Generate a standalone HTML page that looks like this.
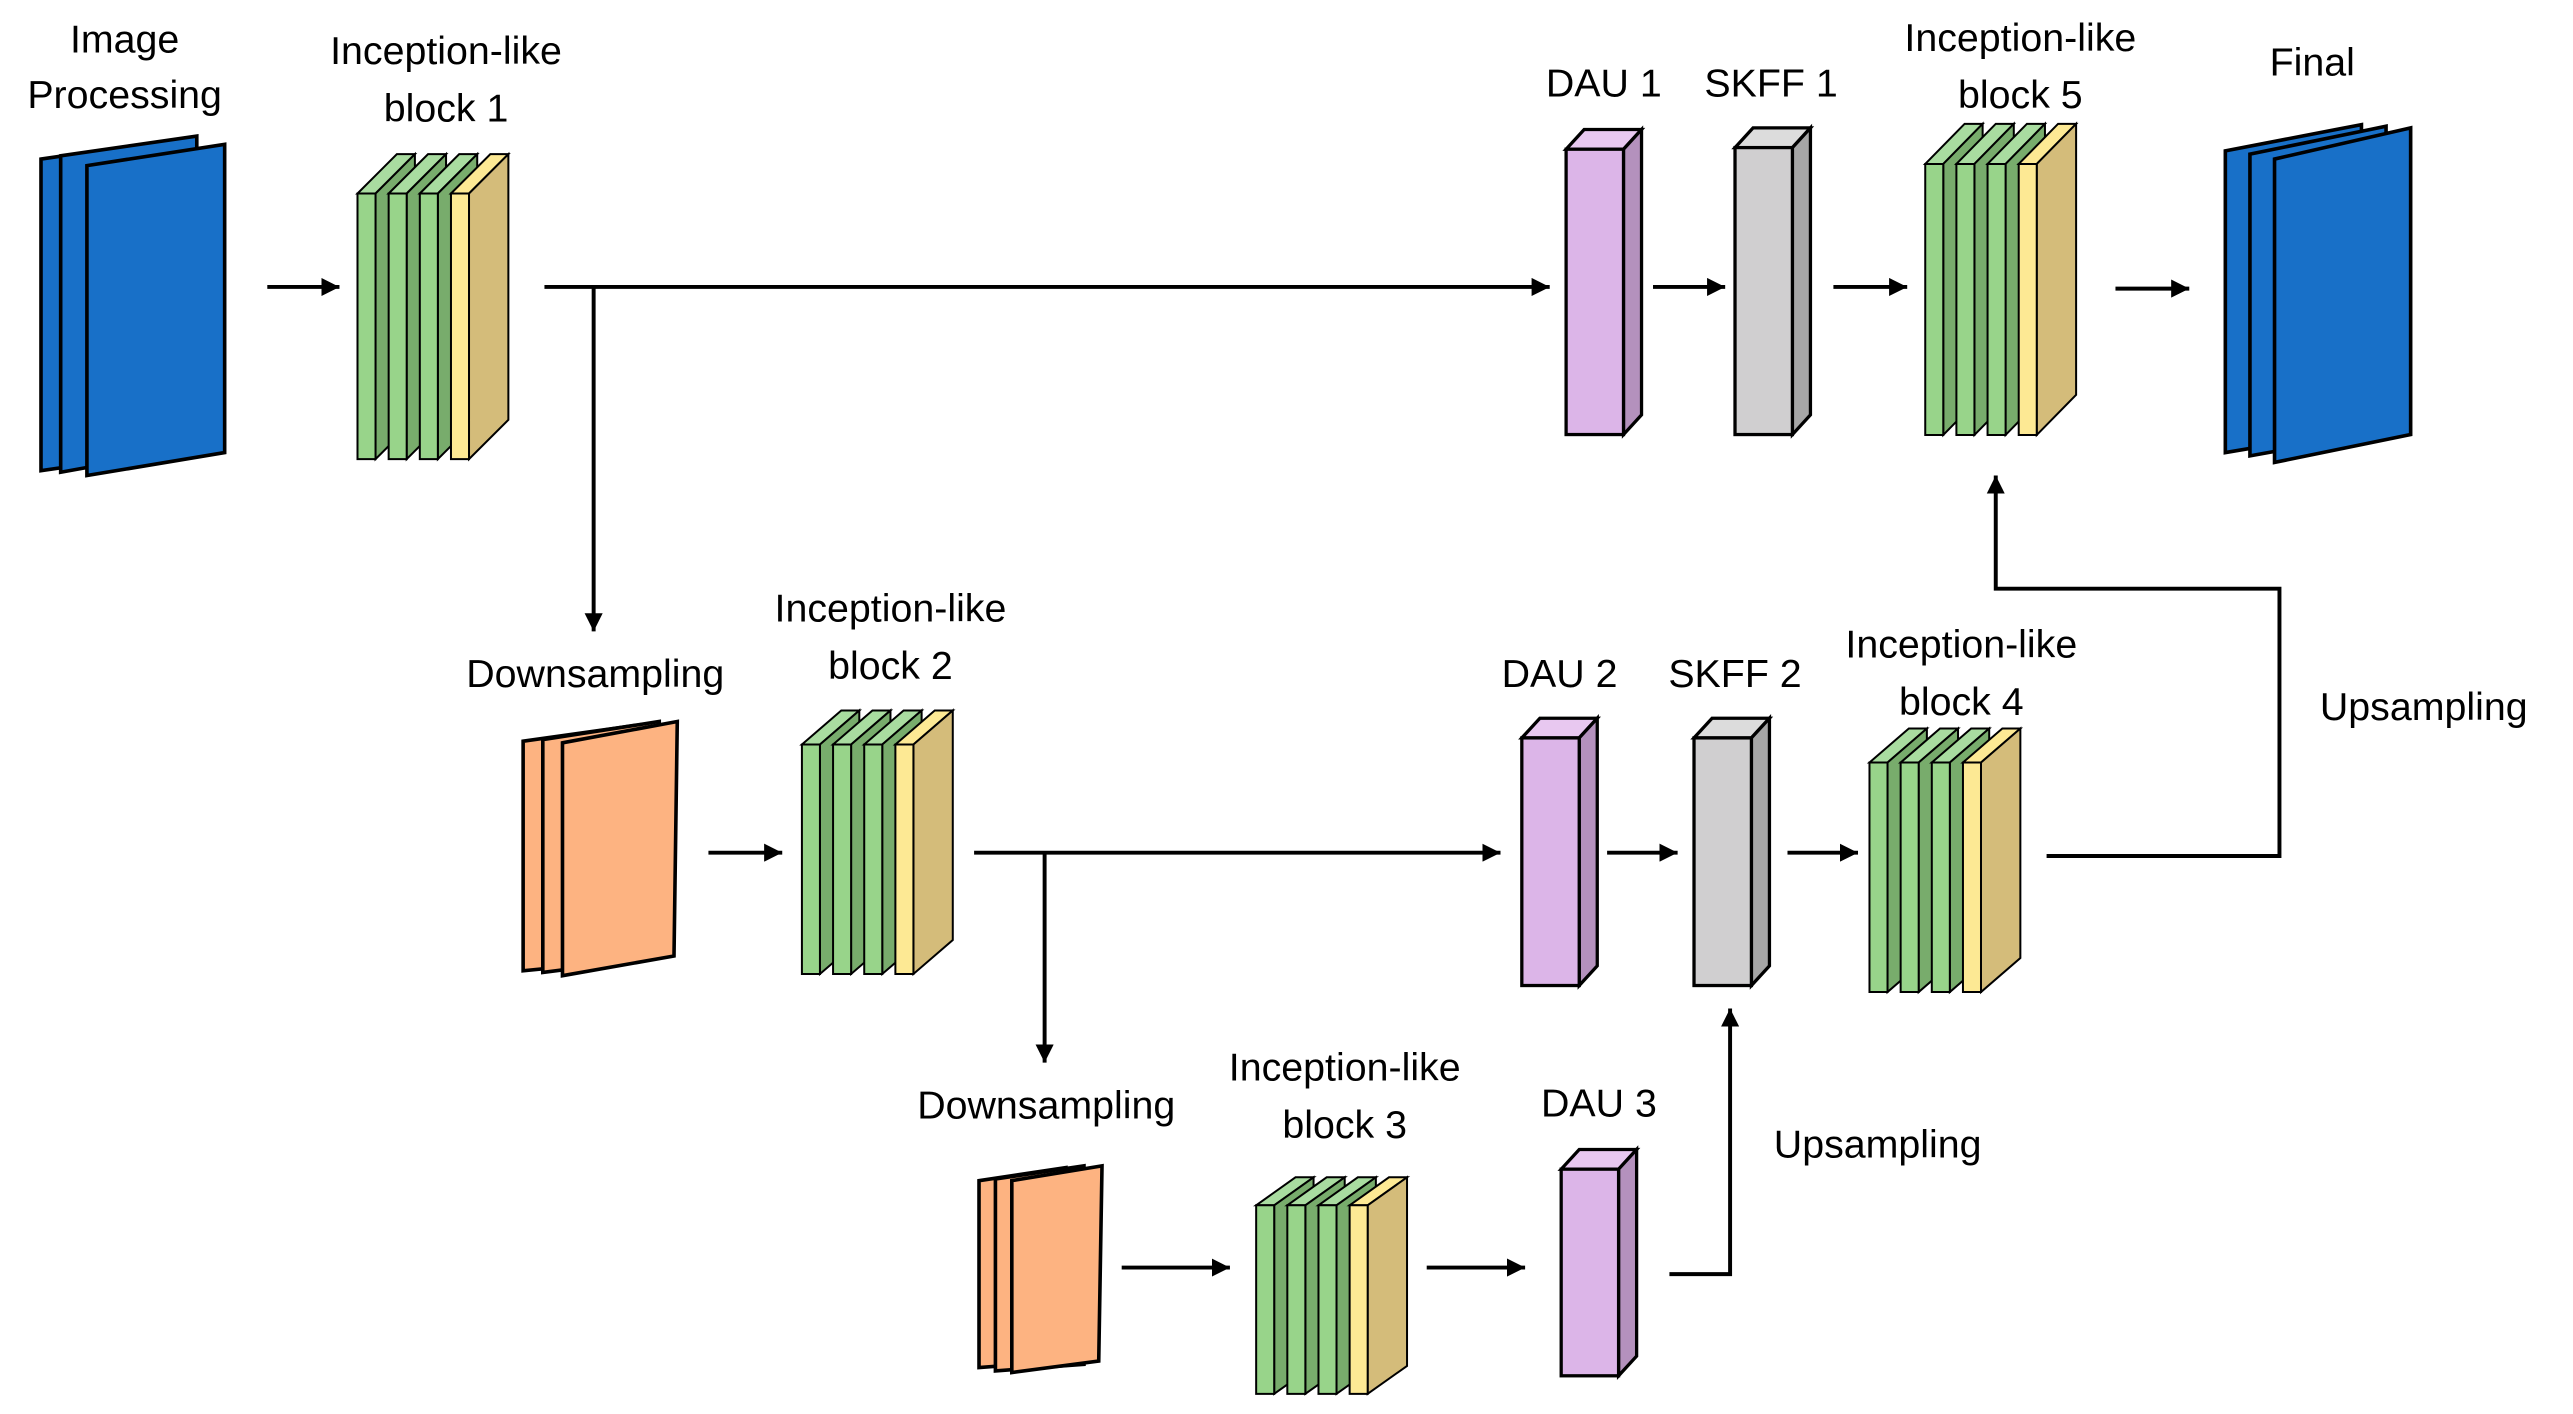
<!DOCTYPE html>
<html><head><meta charset="utf-8"><style>
html,body{margin:0;padding:0;background:#fff;}
svg{display:block;}
text{font-family:"Liberation Sans",sans-serif;font-size:24px;fill:#000;text-anchor:middle;}
</style></head><body>
<svg width="2573" height="1414" viewBox="0 0 1569 862.3" preserveAspectRatio="none" xmlns="http://www.w3.org/2000/svg">
<defs>
<marker id="ah" viewBox="0 0 10 10" refX="10" refY="5" markerWidth="4.6" markerHeight="4.6" orient="auto" markerUnits="strokeWidth"><path d="M0,0 L10,5 L0,10 z" fill="#000"/></marker>
<g id="sg">
<polygon points="0,0 24,-24 35,-24 11,0" fill="#a9dca0" stroke="#000" stroke-width="2" vector-effect="non-scaling-stroke"/>
<polygon points="11,0 35,-24 35,138 11,162" fill="#78ac6c" stroke="#000" stroke-width="2" vector-effect="non-scaling-stroke"/>
<rect x="0" y="0" width="11" height="162" fill="#98d48a" stroke="#000" stroke-width="2" vector-effect="non-scaling-stroke"/>
</g>
<g id="sy">
<polygon points="0,0 24,-24 35,-24 11,0" fill="#fde994" stroke="#000" stroke-width="2" vector-effect="non-scaling-stroke"/>
<polygon points="11,0 35,-24 35,138 11,162" fill="#d4bc7a" stroke="#000" stroke-width="2" vector-effect="non-scaling-stroke"/>
<rect x="0" y="0" width="11" height="162" fill="#fde994" stroke="#000" stroke-width="2" vector-effect="non-scaling-stroke"/>
</g>
<g id="blk">
<use href="#sg" x="0"/><use href="#sg" x="19"/><use href="#sg" x="38"/><use href="#sy" x="57"/>
</g>
</defs>

<g transform="translate(218,118) scale(1,1)"><use href="#blk"/></g>
<g transform="translate(489,454) scale(1,0.864)"><use href="#blk"/></g>
<g transform="translate(766,735) scale(1,0.71)"><use href="#blk"/></g>
<g transform="translate(1140,465) scale(1,0.864)"><use href="#blk"/></g>
<g transform="translate(1174,100) scale(1,1.02)"><use href="#blk"/></g>

<g stroke="#000" stroke-width="2">
<polygon points="955,91 966,79 1001,79 990,91" fill="#e8c8f0"/><polygon points="990,91 1001,79 1001,253 990,265" fill="#b491bd"/><rect x="955" y="91" width="35" height="174" fill="#dcb5e8"/>
<polygon points="1058,90 1069,78 1104,78 1093,90" fill="#dcdcdc"/><polygon points="1093,90 1104,78 1104,253 1093,265" fill="#a6a6a6"/><rect x="1058" y="90" width="35" height="175" fill="#d0cfd0"/>
<polygon points="928,450 939,438 974,438 963,450" fill="#e8c8f0"/><polygon points="963,450 974,438 974,589 963,601" fill="#b491bd"/><rect x="928" y="450" width="35" height="151" fill="#dcb5e8"/>
<polygon points="1033,450 1044,438 1079,438 1068,450" fill="#dcdcdc"/><polygon points="1068,450 1079,438 1079,589 1068,601" fill="#a6a6a6"/><rect x="1033" y="450" width="35" height="151" fill="#d0cfd0"/>
<polygon points="952,713 963,701 998,701 987,713" fill="#e8c8f0"/><polygon points="987,713 998,701 998,827 987,839" fill="#b491bd"/><rect x="952" y="713" width="35" height="126" fill="#dcb5e8"/>
</g>

<g stroke="#000" stroke-width="2.2">
<polygon points="25,97 108,85 108,275 25,287" fill="#1870c8"/>
<polygon points="37,95 120,83 120,273 37,288" fill="#1870c8"/>
<polygon points="53,101 137,88 137,276 53,290" fill="#1870c8"/>
<polygon points="1357,92 1440,76 1440,262 1357,276" fill="#1870c8"/>
<polygon points="1372,94 1455,77 1455,263 1372,278" fill="#1870c8"/>
<polygon points="1387,97 1470,78 1470,265 1387,282" fill="#1870c8"/>
<polygon points="319,452 390,442 390,585 319,592" fill="#fdb381"/>
<polygon points="331,451 402,440 402,584 331,593" fill="#fdb381"/>
<polygon points="343,453 413,440 411,583 343,595" fill="#fdb381"/>
<polygon points="597,720 650,712 650,830 597,834" fill="#fdb381"/>
<polygon points="607,719 661,711 661,832 607,836" fill="#fdb381"/>
<polygon points="617,720 672,711 670,830 617,837" fill="#fdb381"/>
</g>

<g stroke="#000" stroke-width="2.4" fill="none">
<line x1="163" y1="175" x2="207" y2="175" marker-end="url(#ah)"/>
<line x1="332" y1="175" x2="945" y2="175" marker-end="url(#ah)"/>
<line x1="362" y1="175" x2="362" y2="385" marker-end="url(#ah)"/>
<line x1="1008" y1="175" x2="1052" y2="175" marker-end="url(#ah)"/>
<line x1="1118" y1="175" x2="1163" y2="175" marker-end="url(#ah)"/>
<line x1="1290" y1="176" x2="1335" y2="176" marker-end="url(#ah)"/>
<line x1="432" y1="520" x2="477" y2="520" marker-end="url(#ah)"/>
<line x1="594" y1="520" x2="915" y2="520" marker-end="url(#ah)"/>
<line x1="637" y1="520" x2="637" y2="648" marker-end="url(#ah)"/>
<line x1="980" y1="520" x2="1023" y2="520" marker-end="url(#ah)"/>
<line x1="1090" y1="520" x2="1133" y2="520" marker-end="url(#ah)"/>
<polyline points="1248,522 1390,522 1390,359 1217,359 1217,290" marker-end="url(#ah)"/>
<line x1="684" y1="773" x2="750" y2="773" marker-end="url(#ah)"/>
<line x1="870" y1="773" x2="930" y2="773" marker-end="url(#ah)"/>
<polyline points="1018,777 1055,777 1055,615" marker-end="url(#ah)"/>
</g>

<text x="76" y="32">Image</text>
<text x="76" y="66">Processing</text>
<text x="272" y="39">Inception-like</text>
<text x="272" y="74">block 1</text>
<text x="978" y="59">DAU 1</text>
<text x="1080" y="59">SKFF 1</text>
<text x="1232" y="31">Inception-like</text>
<text x="1232" y="66">block 5</text>
<text x="1410" y="46">Final</text>
<text x="363" y="419">Downsampling</text>
<text x="543" y="379">Inception-like</text>
<text x="543" y="414">block 2</text>
<text x="951" y="419">DAU 2</text>
<text x="1058" y="419">SKFF 2</text>
<text x="1196" y="401">Inception-like</text>
<text x="1196" y="436">block 4</text>
<text x="1478" y="439">Upsampling</text>
<text x="638" y="682">Downsampling</text>
<text x="820" y="659">Inception-like</text>
<text x="820" y="694">block 3</text>
<text x="975" y="681">DAU 3</text>
<text x="1145" y="706">Upsampling</text>
</svg>
</body></html>
